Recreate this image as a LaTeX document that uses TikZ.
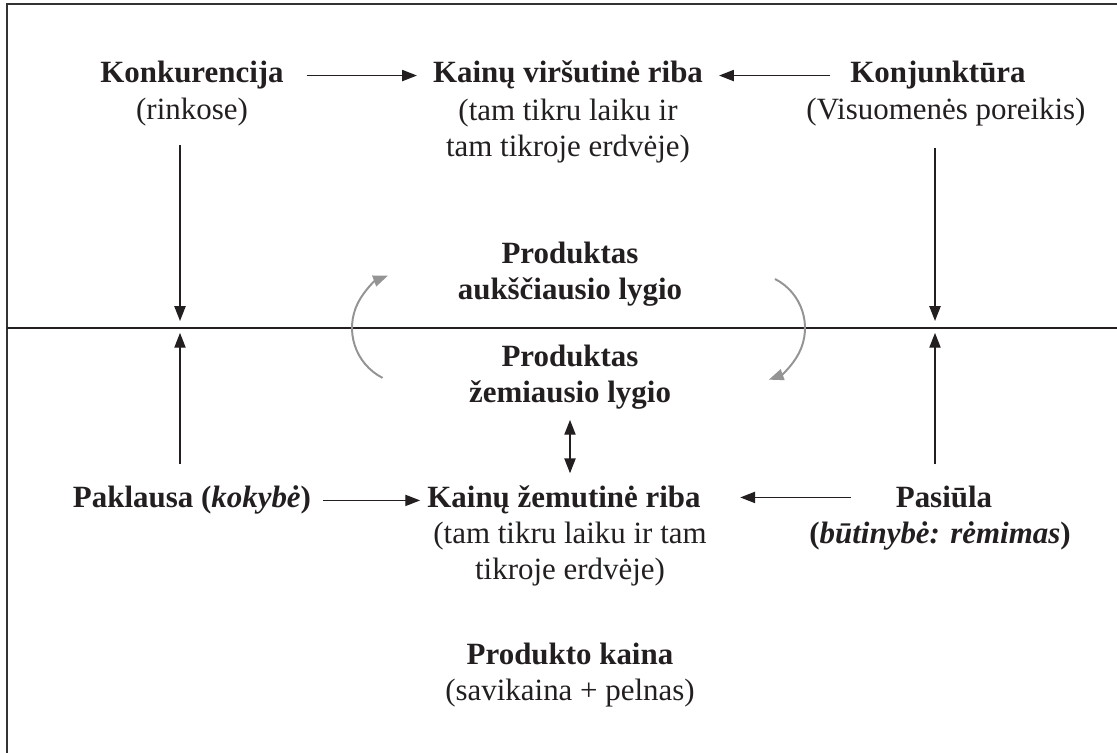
\documentclass[tikz,border=0pt]{standalone}
\usepackage{fontspec}
\setmainfont{Liberation Serif}
\usetikzlibrary{arrows.meta}
\definecolor{ink}{HTML}{231F20}
\newcommand\bigtext{\fontsize{22}{25.6}\selectfont}
\tikzset{
  hd/.style={font=\bigtext\bfseries, text=ink, inner sep=0pt, anchor=base, align=center},
  sub/.style={font=\bigtext, text=ink, inner sep=0pt, anchor=base, align=center},
  arr/.style={->, draw=ink, line width=0.85pt},
  garr/.style={->, draw=black!42, line width=1.4pt},
  frame/.style={draw=black!80, line width=1.2pt},
}
\begin{document}
\begin{tikzpicture}[x=0.025cm, y=0.025cm, >={Triangle[length=10.5pt,width=8pt]}]
    \useasboundingbox (0,0) rectangle (1117,753);
    % frame and dividing line
    \draw[frame] (1117,749) -- (7,749) -- (7,0);
    \draw[ink, line width=1pt] (7,425) -- (1117,425);
    \coordinate (midL) at (180,425);
    \coordinate (midR) at (935,425);

    % upper row (multi-line nodes sit on their last line)
    \node[hd] (konk) at (192,670) {Konkurencija};
    \node[sub] (konkS) at (192,633) {(rinkose)};
    \node[hd] (kvir) at (568,670) {Kainų viršutinė riba};
    \node[sub] (kvirS) at (568,596) {(tam tikru laiku ir\\tam tikroje erdvėje)};
    \node[hd] (konj) at (938,670) {Konjunktūra};
    \node[sub] (konjS) at (946,633) {(Visuomenės poreikis)};

    % products
    \node[hd] (ptop) at (570,453) {Produktas\\aukščiausio lygio};
    \node[hd] (pbot) at (570,350) {Produktas\\žemiausio lygio};

    % lower row
    \node[hd] (pakl) at (192,245) {Paklausa (\textit{kokybė})};
    \node[hd] (kzem) at (564,245) {Kainų žemutinė riba};
    \node[sub] (kzemS) at (570,173) {(tam tikru laiku ir tam\\tikroje erdvėje)};
    \node[hd] (pasi) at (944,245) {Pasiūla};
    \node[hd] (pasiS) at (940,209) {(\textit{būtinybė: rėmimas})};

    \node[hd] (kaina) at (570,88) {Produkto kaina};
    \node[sub] (kainaS) at (570,52) {(savikaina + pelnas)};

    % arrows
    \draw[arr, shorten <=16.3pt, shorten >=11.3pt] (konk.east) -- (konk.east -| kvir.west);
    \draw[arr, shorten <=14pt, shorten >=11.3pt] (konj.west) -- (konj.west -| kvir.east);
    \draw[arr, shorten <=13pt, shorten >=5pt] (konkS.south -| midL) -- (midL);
    \draw[arr, shorten <=15pt, shorten >=5pt] (konjS.south -| midR) -- (midR);
    \draw[arr, shorten <=15.6pt, shorten >=3.5pt] (pakl.north -| midL) -- (midL);
    \draw[arr, shorten <=15.6pt, shorten >=3.5pt] (pasi.north -| midR) -- (midR);
    \draw[arr, shorten <=8.5pt, shorten >=5pt] (pakl.east) -- (pakl.east -| kzem.west);
    \draw[arr, shorten <=32pt, shorten >=28pt] (pasi.west) -- (pasi.west -| kzem.east);
    \draw[arr, <->, shorten <=7pt, shorten >=9pt] (pbot.south) -- (pbot.south |- kzem.north);

    % circulation
    \draw[garr] (408,425) ++(243:56) arc[start angle=243, end angle=111, radius=56];
    \draw[garr] (750,425) ++(63:55) arc[start angle=63, end angle=-70, radius=55];
\end{tikzpicture}
\end{document}
